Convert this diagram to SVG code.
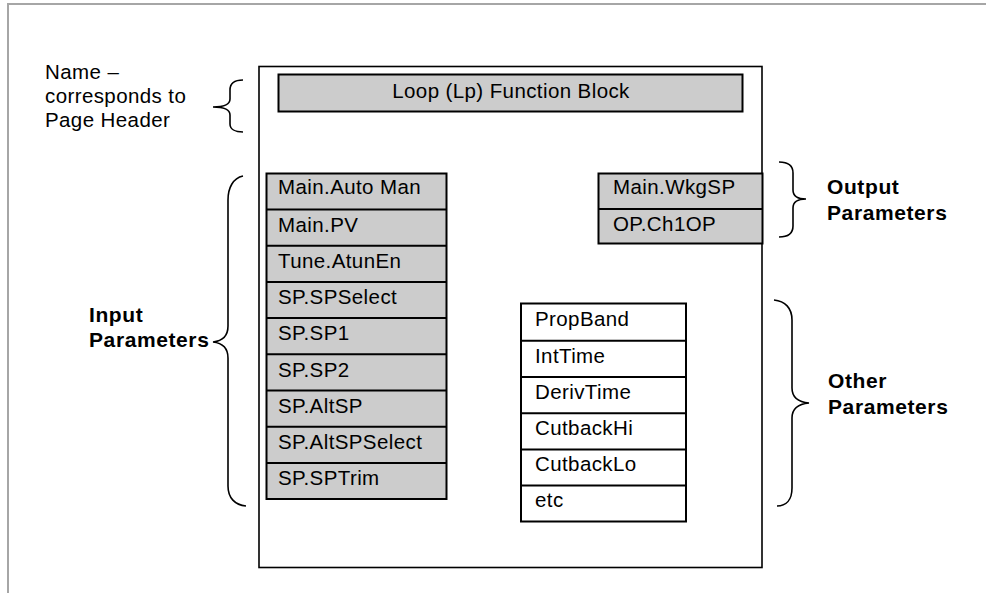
<svg xmlns="http://www.w3.org/2000/svg" width="986" height="593" viewBox="0 0 986 593">
<style>
  .frame { fill: none; stroke: #a6a6a6; stroke-width: 2; }
  .main { fill: #ffffff; stroke: #000000; stroke-width: 1.6; }
  .gray { fill: #cccccc; stroke: #000000; stroke-width: 2; }
  .white { fill: #ffffff; stroke: #000000; stroke-width: 2; }
  .sep { stroke: #000000; stroke-width: 2; }
  .brace { fill: none; stroke: #000000; stroke-width: 1.6; }
  .t { font-family: "Liberation Sans", Arial, sans-serif; font-size: 20.5px; letter-spacing: 0.4px; fill: #000000; }
  .b { font-family: "Liberation Sans", Arial, sans-serif; font-size: 21px; font-weight: bold; letter-spacing: 0.6px; fill: #000000; }
</style>
<rect width="986" height="593" fill="#ffffff"/>
<path class="frame" d="M8,593 L8,4 L986,4"/>

<g id="function-block">
  <rect class="main" x="259" y="66.5" width="503" height="501"/>
</g>

<g id="title">
  <rect class="gray" x="278.5" y="74.5" width="464" height="37"/>
  <text class="t" x="511" y="97.5" text-anchor="middle">Loop (Lp) Function Block</text>
</g>

<g id="name-label">
  <text class="t" x="45" y="78.5">Name –</text>
  <text class="t" x="45" y="103">corresponds to</text>
  <text class="t" x="45" y="127">Page Header</text>
</g>

<g id="input-parameters">
  <rect class="gray" x="266.5" y="173.5" width="180" height="325.5"/>
  <line class="sep" x1="266.5" y1="209.5" x2="446.5" y2="209.5"/>
  <line class="sep" x1="266.5" y1="245.7" x2="446.5" y2="245.7"/>
  <line class="sep" x1="266.5" y1="281.9" x2="446.5" y2="281.9"/>
  <line class="sep" x1="266.5" y1="318.1" x2="446.5" y2="318.1"/>
  <line class="sep" x1="266.5" y1="354.3" x2="446.5" y2="354.3"/>
  <line class="sep" x1="266.5" y1="390.5" x2="446.5" y2="390.5"/>
  <line class="sep" x1="266.5" y1="426.7" x2="446.5" y2="426.7"/>
  <line class="sep" x1="266.5" y1="462.9" x2="446.5" y2="462.9"/>
  <text class="t" x="278" y="193.5">Main.Auto Man</text>
  <text class="t" x="278" y="231.5">Main.PV</text>
  <text class="t" x="278" y="267.5">Tune.AtunEn</text>
  <text class="t" x="278" y="303.5">SP.SPSelect</text>
  <text class="t" x="278" y="340">SP.SP1</text>
  <text class="t" x="278" y="376.5">SP.SP2</text>
  <text class="t" x="278" y="413">SP.AltSP</text>
  <text class="t" x="278" y="449">SP.AltSPSelect</text>
  <text class="t" x="278" y="485">SP.SPTrim</text>
</g>

<g id="output-parameters">
  <rect class="gray" x="598.5" y="173.5" width="164" height="70"/>
  <line class="sep" x1="598.5" y1="209" x2="762.5" y2="209"/>
  <text class="t" x="613" y="193.5">Main.WkgSP</text>
  <text class="t" x="613" y="230.5">OP.Ch1OP</text>
</g>

<g id="other-parameters">
  <rect class="white" x="521" y="303.5" width="165" height="218"/>
  <line class="sep" x1="521" y1="340.8" x2="686" y2="340.8"/>
  <line class="sep" x1="521" y1="377" x2="686" y2="377"/>
  <line class="sep" x1="521" y1="413.2" x2="686" y2="413.2"/>
  <line class="sep" x1="521" y1="449.4" x2="686" y2="449.4"/>
  <line class="sep" x1="521" y1="485.6" x2="686" y2="485.6"/>
  <text class="t" x="535" y="325.5">PropBand</text>
  <text class="t" x="535" y="362.5">IntTime</text>
  <text class="t" x="535" y="398.5">DerivTime</text>
  <text class="t" x="535" y="435">CutbackHi</text>
  <text class="t" x="535" y="471">CutbackLo</text>
  <text class="t" x="535" y="507">etc</text>
</g>

<g id="input-label">
  <text class="b" x="89" y="322">Input</text>
  <text class="b" x="89" y="347">Parameters</text>
</g>

<g id="output-label">
  <text class="b" x="827" y="193.5">Output</text>
  <text class="b" x="827" y="219.5">Parameters</text>
</g>

<g id="other-label">
  <text class="b" x="828" y="388">Other</text>
  <text class="b" x="828" y="414">Parameters</text>
</g>

<g id="connectors">
  <path class="brace" d="M243,80 C235,80 230,83 230,90 L230,99 C230,104 224,107 213,107 C224,107 230,110 230,115 L230,124 C230,129 235,132 243,132"/>
  <path class="brace" d="M243,176 C233,178 228,188 228,200 L228,326 C228,336 222,341 213,342 C222,343 228,348 228,358 L228,486 C228,498 235,505 246,506"/>
  <path class="brace" d="M779,162 C788,162 793,166 793,173 L793,190 C793,196 798,199 806,199 C798,199 793,202 793,208 L793,226 C793,233 788,237 779,237"/>
  <path class="brace" d="M774,300 C785,301 792,308 792,320 L792,388 C792,397 798,402 809,403 C798,404 792,409 792,418 L792,488 C792,500 786,506 777,506"/>
</g>
</svg>
